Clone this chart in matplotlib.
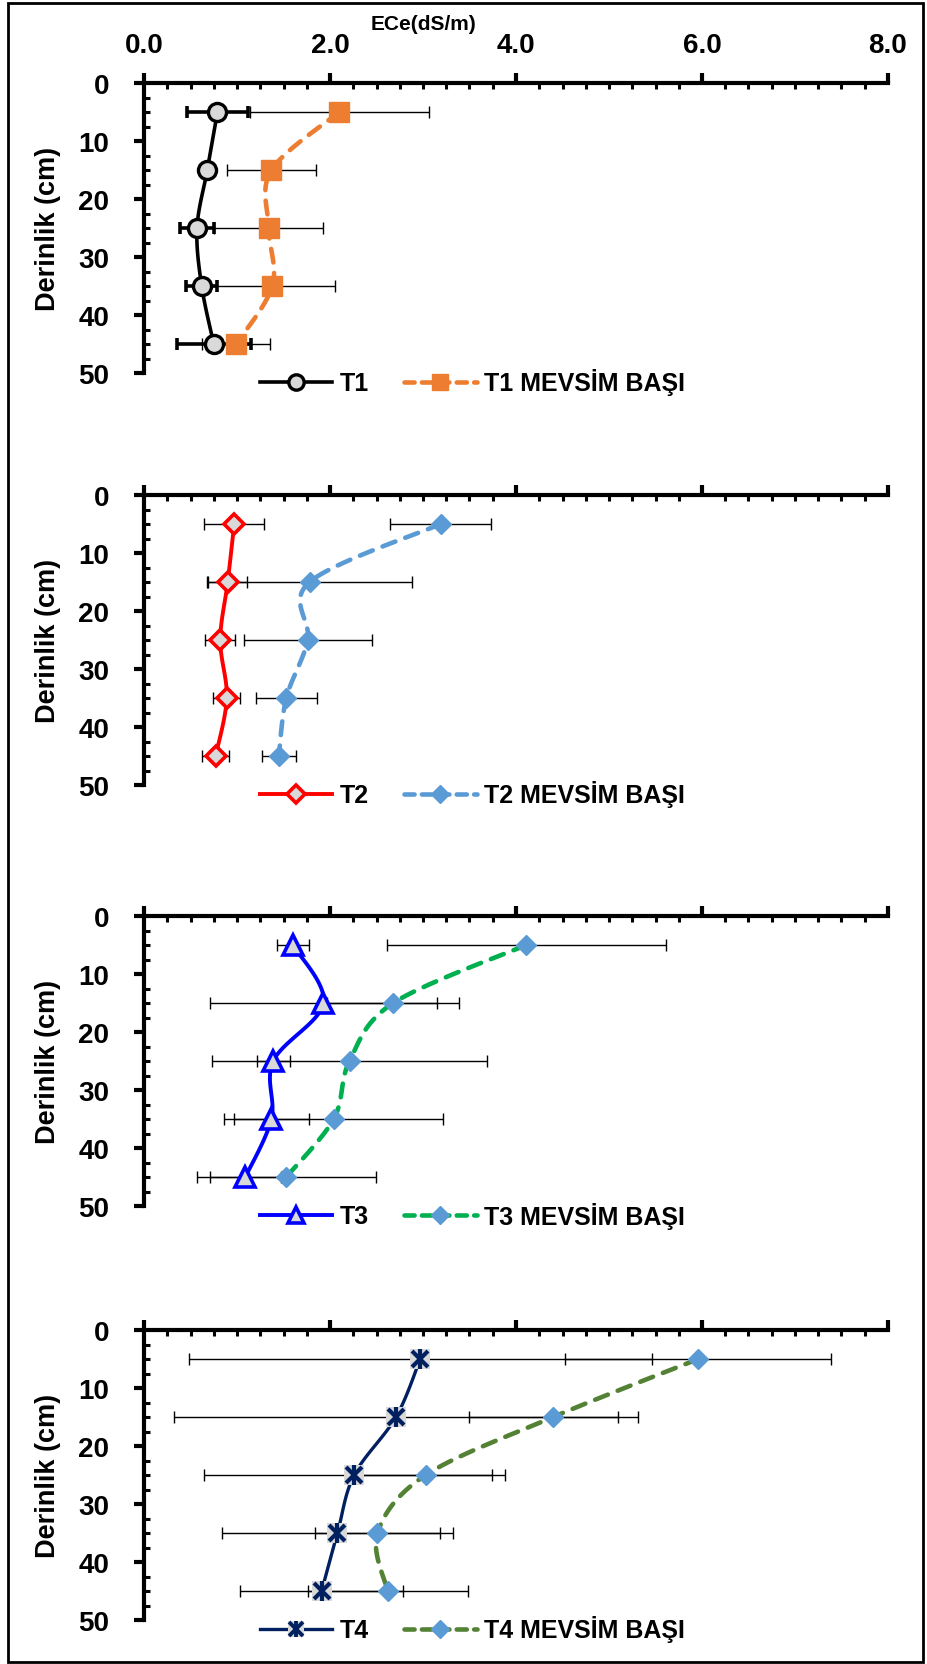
import numpy as np
import matplotlib
matplotlib.use("Agg")
import matplotlib.pyplot as plt
from matplotlib.lines import Line2D
from matplotlib.patches import Rectangle
from matplotlib.legend_handler import HandlerTuple
from matplotlib.ticker import MultipleLocator, FormatStrFormatter

# depth of sampling layers (cm)
depth = [5, 15, 25, 35, 45]

# ECe values (dS/m) and std errors
t1 = [0.79, 0.68, 0.57, 0.62, 0.75]
t1_err = [0.33, 0.05, 0.18, 0.17, 0.40]
t1_mb = [2.10, 1.37, 1.34, 1.38, 0.99]
t1_mb_err = [0.96, 0.48, 0.59, 0.67, 0.37]

t2 = [0.97, 0.90, 0.82, 0.89, 0.77]
t2_err = [0.32, 0.21, 0.16, 0.145, 0.145]
t2_mb = [3.19, 1.78, 1.76, 1.53, 1.45]
t2_mb_err = [0.54, 1.10, 0.69, 0.33, 0.18]

t3 = [1.60, 1.93, 1.39, 1.37, 1.09]
t3_err = [0.175, 1.22, 0.18, 0.40, 0.38]
t3_mb = [4.11, 2.68, 2.21, 2.04, 1.53]
t3_mb_err = [1.50, 0.71, 1.48, 1.18, 0.96]

t4 = [2.97, 2.71, 2.26, 2.08, 1.91]
t4_err = [2.49, 2.385, 1.62, 1.24, 0.88]
t4_mb = [5.96, 4.40, 3.03, 2.51, 2.62]
t4_mb_err = [1.43, 0.91, 0.71, 0.67, 0.86]

labels = ["T1", "T2", "T3", "T4"]

plt.rcParams["font.family"] = ["Liberation Sans", "DejaVu Sans"]
plt.rcParams["font.weight"] = "bold"

W, H = 928, 1665
GRAY = "#D9D9D9"
MB_BLUE = "#5B9BD5"


def smooth(xs, ys, n=24):
    # Excel-like smoothed line (Catmull-Rom through the points)
    p = np.column_stack([xs, ys]).astype(float)
    p = np.vstack([p[0], p, p[-1]])
    out = []
    t = np.linspace(0, 1, n)[:, None]
    for i in range(1, len(p) - 2):
        b0 = p[i]
        b1 = p[i] + (p[i + 1] - p[i - 1]) / 6
        b2 = p[i + 1] - (p[i + 2] - p[i]) / 6
        b3 = p[i + 1]
        seg = ((1 - t) ** 3) * b0 + 3 * ((1 - t) ** 2) * t * b1 + 3 * (1 - t) * t ** 2 * b2 + t ** 3 * b3
        out.append(seg)
    out = np.vstack(out)
    return out[:, 0], out[:, 1]


t_styles = [
    dict(color="black", lw=2.6, marker="o", ms=13, mfc=GRAY, mec="black", mew=2.4),
    dict(color="#FF0000", lw=2.8, marker="D", ms=10.5, mfc=GRAY, mec="#FF0000", mew=2.6),
    dict(color="#0000FF", lw=2.8, marker="^", ms=14, mfc=GRAY, mec="#0000FF", mew=2.6),
    dict(color="#002060", lw=2.4, marker="s", ms=14, mfc=GRAY, mec=GRAY, mew=0),
]
mb_styles = [
    dict(color="#ED7D31", marker="s", ms=14, mfc="#ED7D31", mec="#ED7D31"),
    dict(color=MB_BLUE, marker="D", ms=10.5, mfc=MB_BLUE, mec=MB_BLUE),
    dict(color="#00B050", marker="D", ms=10.5, mfc=MB_BLUE, mec=MB_BLUE),
    dict(color="#548235", marker="D", ms=10.5, mfc=MB_BLUE, mec=MB_BLUE),
]

series = [
    (t1, t1_err, t1_mb, t1_mb_err),
    (t2, t2_err, t2_mb, t2_mb_err),
    (t3, t3_err, t3_mb, t3_mb_err),
    (t4, t4_err, t4_mb, t4_mb_err),
]
tops = [84, 496, 917, 1331]
ph = 290
dash = (3.0, 2.3)
dash_lw = 3.3

fig = plt.figure(figsize=(W / 100, H / 100), dpi=100)

for i, (tv, te, mv, me) in enumerate(series):
    top = tops[i]
    ax = fig.add_axes([144 / W, 1 - (top + ph) / H, 744 / W, ph / H])
    ax.set_xlim(0, 8)
    ax.set_ylim(50, 0)

    for s in ["right", "bottom"]:
        ax.spines[s].set_visible(False)
    for s in ["top", "left"]:
        ax.spines[s].set_linewidth(3)

    ax.xaxis.set_major_locator(MultipleLocator(2))
    ax.xaxis.set_minor_locator(MultipleLocator(0.25))
    ax.yaxis.set_major_locator(MultipleLocator(10))
    ax.yaxis.set_minor_locator(MultipleLocator(2.5))
    ax.xaxis.set_major_formatter(FormatStrFormatter("%.1f"))

    ax.tick_params(which="major", direction="out", length=7, width=3, labelsize=20)
    ax.tick_params(which="minor", direction="in", length=4.5, width=2.2)
    ax.tick_params(axis="x", which="both", top=True, bottom=False,
                   labeltop=(i == 0), labelbottom=False, pad=11)
    ax.tick_params(axis="y", which="both", left=True, right=False, pad=18)

    st = t_styles[i]
    ms_ = mb_styles[i]

    # error bars
    thick = (i == 0)
    ax.errorbar(tv, depth, xerr=te, fmt="none", ecolor="black",
                elinewidth=2.6 if thick else 1.0, capsize=4,
                capthick=2.6 if thick else 1.0, zorder=2)
    ax.errorbar(mv, depth, xerr=me, fmt="none", ecolor="black",
                elinewidth=1.0, capsize=4, capthick=1.0, zorder=2)

    # lines
    sx, sy = smooth(tv, depth)
    ax.plot(sx, sy, color=st["color"], lw=st["lw"], zorder=3)
    sx, sy = smooth(mv, depth)
    ax.plot(sx, sy, color=ms_["color"], lw=dash_lw, ls=(0, dash),
            dash_capstyle="round", zorder=4)

    # markers
    ax.plot(tv, depth, ls="none", marker=st["marker"], ms=st["ms"],
            mfc=st["mfc"], mec=st["mec"], mew=st["mew"], zorder=5)
    if i == 3:
        ax.plot(tv, depth, ls="none", marker="x", ms=11, mec=st["color"], mew=3, zorder=6)
        ax.plot(tv, depth, ls="none", marker="|", ms=14, mec=st["color"], mew=3, zorder=6)
    ax.plot(mv, depth, ls="none", marker=ms_["marker"], ms=ms_["ms"],
            mfc=ms_["mfc"], mec=ms_["mec"], zorder=7)

    # legend
    h1 = Line2D([], [], color=st["color"], lw=st["lw"], marker=st["marker"],
                ms=st["ms"] * 0.85, mfc=st["mfc"], mec=st["mec"], mew=st["mew"])
    if i == 3:
        h1 = (h1,
              Line2D([], [], ls="none", marker="x", ms=9.5, mec=st["color"], mew=2.8),
              Line2D([], [], ls="none", marker="|", ms=12, mec=st["color"], mew=2.8))
    h2 = Line2D([], [], color=ms_["color"], lw=dash_lw, ls=(0, (2.2, 1.6)),
                dash_capstyle="round", marker=ms_["marker"], ms=ms_["ms"] * 0.85,
                mfc=ms_["mfc"], mec=ms_["mec"])
    ax.legend([h1, h2], [labels[i], labels[i] + " MEVSİM BAŞI"],
              loc="center left", bbox_to_anchor=(260 / W, 1 - (top + ph + 9) / H),
              bbox_transform=fig.transFigure, ncol=2, frameon=False,
              prop={"weight": "bold", "size": 18}, handlelength=2.9,
              handletextpad=0.3, columnspacing=1.4, borderpad=0, borderaxespad=0,
              handler_map={tuple: HandlerTuple(ndivide=1)})

    fig.text(48 / W, 1 - (top + ph / 2) / H, "Derinlik (cm)", rotation=90,
             ha="center", va="center", fontsize=19.5, fontweight="bold")

fig.text(424 / W, 1 - 25 / H, "ECe(dS/m)", ha="center", va="center",
         fontsize=15, fontweight="bold")

fig.patches.append(Rectangle((8 / W, 1 - 1663 / H), 915 / W, 1659 / H,
                             transform=fig.transFigure, fill=False,
                             ec="black", lw=2))

fig.savefig("out.png", dpi=100)
